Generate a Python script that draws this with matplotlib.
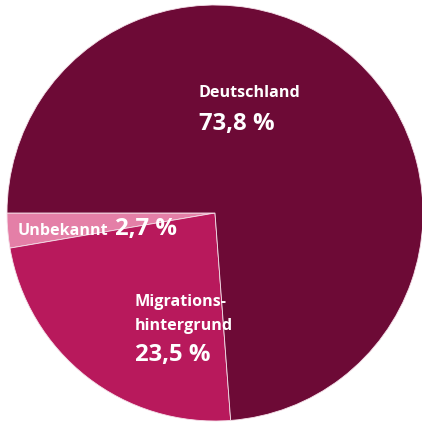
import matplotlib
matplotlib.use("Agg")
import matplotlib.pyplot as plt

# data
labels = ["Unbekannt", "Migrations-\nhintergrund", "Deutschland"]
values = [2.7, 23.5, 73.8]
value_text = ["2,7 %", "23,5 %", "73,8 %"]
colors = ["#e47fa7", "#b8195c", "#6d0a36"]

plt.rcParams['font.family'] = ['Open Sans', 'DejaVu Sans']

fig = plt.figure(figsize=(4.22, 4.22), dpi=100)
ax = fig.add_axes([0, 0, 1, 1])

ax.pie(values, colors=colors, startangle=180, counterclock=True,
       radius=1.0, center=(0, 0),
       wedgeprops=dict(edgecolor="#f5e0e9", linewidth=0.6))

# pixel placement: center (215,213), radius 208 px
ax.set_xlim(-215 / 208, (422 - 215) / 208)
ax.set_ylim(-(422 - 213) / 208, 213 / 208)
ax.set_aspect("equal")
ax.axis("off")

def px(x, y):
    return x / 422, 1 - y / 422

kw = dict(transform=ax.transAxes, color="white", fontweight="bold", va="center", ha="left")

# Deutschland
ax.text(*px(199, 93), labels[2], fontsize=11.6, **kw)
ax.text(*px(199, 124), value_text[2], fontsize=17.2, **kw)

# Unbekannt
ax.text(*px(18, 231), labels[0], fontsize=11.6, **kw)
ax.text(*px(115, 229), value_text[0], fontsize=17.2, **kw)

# Migrationshintergrund
ax.text(*px(135, 302), "Migrations-", fontsize=11.6, **kw)
ax.text(*px(135, 326), "hintergrund", fontsize=11.6, **kw)
ax.text(*px(135, 355), value_text[1], fontsize=17.2, **kw)

fig.savefig("out.png", dpi=100)
